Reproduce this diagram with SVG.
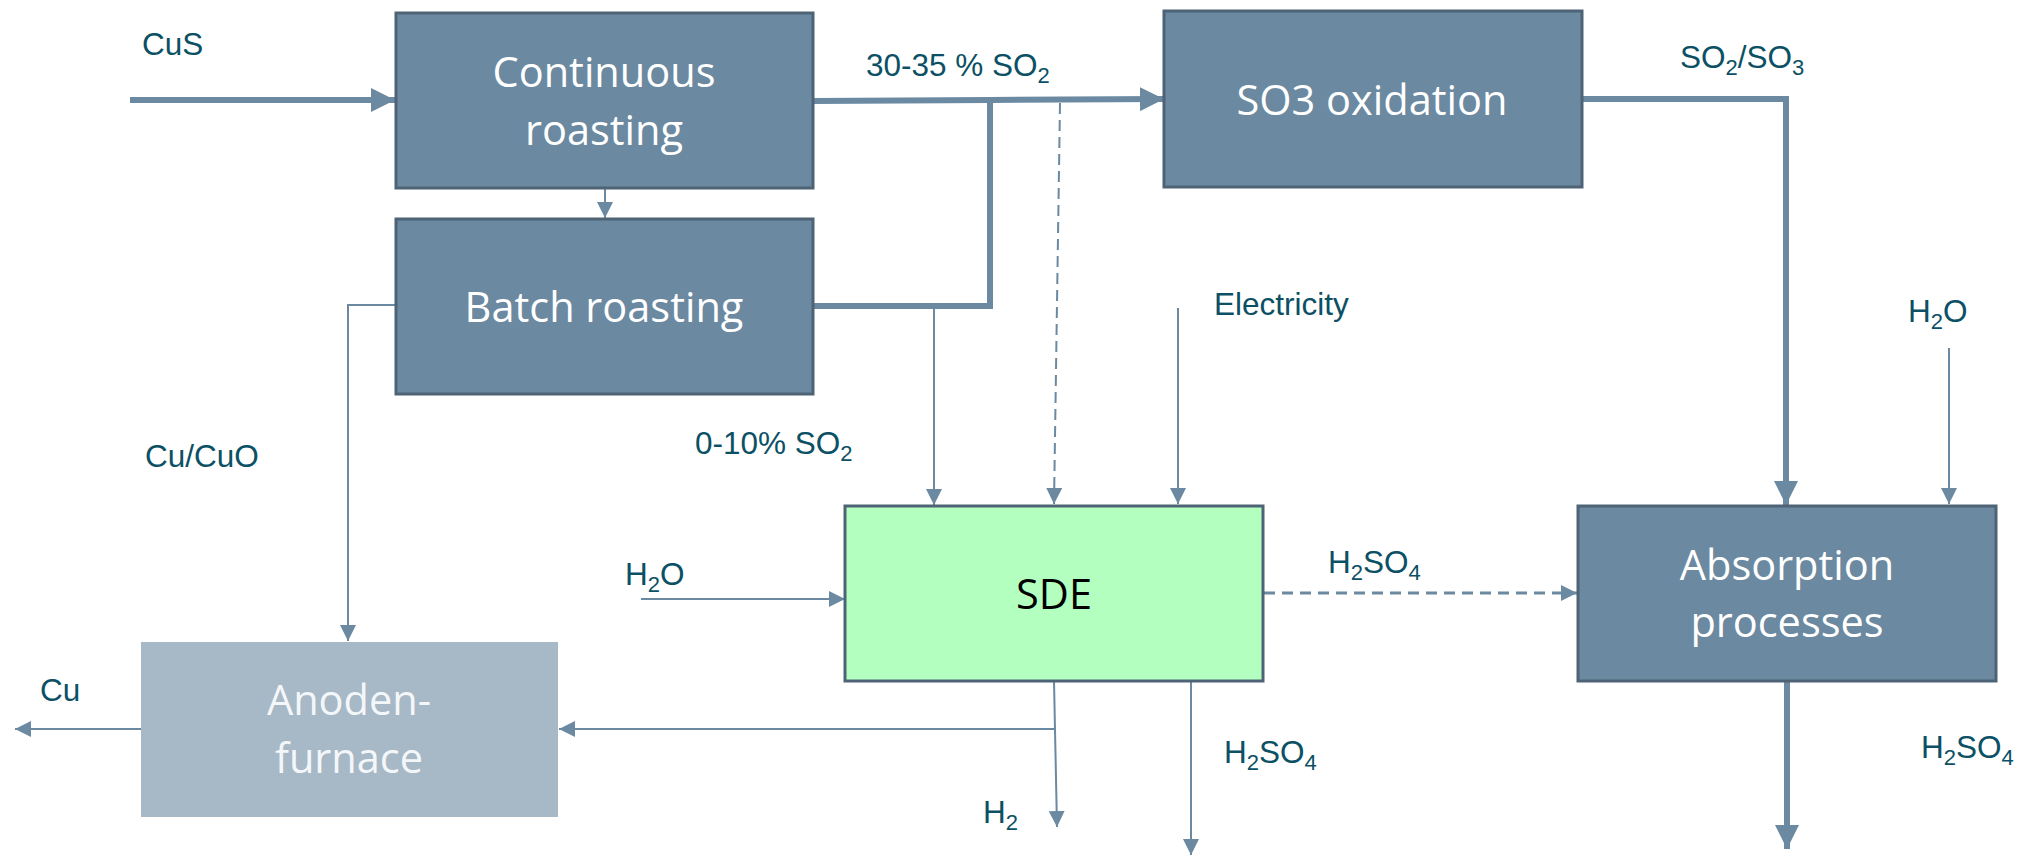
<svg xmlns="http://www.w3.org/2000/svg" width="2024" height="855" viewBox="0 0 2024 855">
<defs>
<style>
.box{fill:#6B89A0;stroke:#4E6375;stroke-width:3}
.light{fill:#A7B8C6}
.sde{fill:#B3FFBF;stroke:#4E6375;stroke-width:3}
.bt{font-family:"Open Sans","Liberation Sans",sans-serif;font-size:41.5px;fill:#FFFFFF;text-anchor:middle}
.lbl{font-family:"Liberation Sans",Arial,sans-serif;font-size:31.5px;fill:#0B5064}
.sub{font-size:22px}
.thick{fill:none;stroke:#6B89A0;stroke-width:6}
.thin{fill:none;stroke:#6B89A0;stroke-width:2}
.dash{fill:none;stroke:#6B89A0;stroke-width:2;stroke-dasharray:11 6}
.dashh{fill:none;stroke:#6B89A0;stroke-width:3;stroke-dasharray:11 7}
</style>
<marker id="ah" markerUnits="userSpaceOnUse" markerWidth="24" markerHeight="24" viewBox="0 0 22 22" refX="22" refY="11" orient="auto"><path d="M0,0 L22,11 L0,22 Z" fill="#6B89A0"/></marker>
<marker id="as" markerUnits="userSpaceOnUse" markerWidth="16" markerHeight="16" viewBox="0 0 15 15" refX="15" refY="7.5" orient="auto"><path d="M0,0 L15,7.5 L0,15 Z" fill="#6B89A0"/></marker>
</defs>
<rect width="2024" height="855" fill="#FFFFFF"/>

<g id="connectors">
<path class="thick" d="M130,100 L395,100" marker-end="url(#ah)"/>
<path class="thick" d="M813,101 L990,100 L1164,99" marker-end="url(#ah)"/>
<path class="thick" d="M813,306 L990,306 L990,100"/>
<path class="thick" d="M1582,99 L1786,99 L1786,505" marker-end="url(#ah)"/>
<path class="thick" d="M1787,681 L1787,849" marker-end="url(#ah)"/>
<path class="thin" d="M605,188 L605,218" marker-end="url(#as)"/>
<path class="thin" d="M396,305 L348,305 L348,641" marker-end="url(#as)"/>
<path class="thin" d="M934,309 L934,505" marker-end="url(#as)"/>
<path class="dash" d="M1060,103 L1054,504" marker-end="url(#as)"/>
<path class="thin" d="M1178,308 L1178,504" marker-end="url(#as)"/>
<path class="thin" d="M1949,348 L1949,504" marker-end="url(#as)"/>
<path class="thin" d="M641,599 L845,599" marker-end="url(#as)"/>
<path class="dashh" d="M1264,593 L1577,593" marker-end="url(#as)"/>
<path class="thin" d="M1054,681 L1057,827" marker-end="url(#as)"/>
<path class="thin" d="M1055,729 L559,729" marker-end="url(#as)"/>
<path class="thin" d="M141,729 L15,729" marker-end="url(#as)"/>
<path class="thin" d="M1191,681 L1191,855" marker-end="url(#as)"/>
</g>

<g id="continuous-roasting">
<rect class="box" x="396" y="13" width="417" height="175"/>
<text class="bt" x="604" y="87">Continuous</text>
<text class="bt" x="604" y="145">roasting</text>
</g>
<g id="batch-roasting">
<rect class="box" x="396" y="219" width="417" height="175"/>
<text class="bt" x="604" y="322">Batch roasting</text>
</g>
<g id="so3-oxidation">
<rect class="box" x="1164" y="11" width="418" height="176"/>
<text class="bt" x="1372" y="115">SO3 oxidation</text>
</g>
<g id="sde">
<rect class="sde" x="845" y="506" width="418" height="175"/>
<text class="bt" x="1054" y="609" style="fill:#000000">SDE</text>
</g>
<g id="absorption">
<rect class="box" x="1578" y="506" width="418" height="175"/>
<text class="bt" x="1787" y="580">Absorption</text>
<text class="bt" x="1787" y="637">processes</text>
</g>
<g id="anoden-furnace">
<rect class="light" x="141" y="642" width="417" height="175"/>
<text class="bt" x="349" y="715" style="fill:#F4F7F9">Anoden-</text>
<text class="bt" x="349" y="773" style="fill:#F4F7F9">furnace</text>
</g>

<g id="labels">
<text class="lbl" x="142" y="55">CuS</text>
<text class="lbl" x="866" y="76">30-35 % SO<tspan class="sub" dy="7">2</tspan></text>
<text class="lbl" x="1680" y="68">SO<tspan class="sub" dy="7">2</tspan><tspan dy="-7">/SO</tspan><tspan class="sub" dy="7">3</tspan></text>
<text class="lbl" x="1214" y="315">Electricity</text>
<text class="lbl" x="1908" y="322">H<tspan class="sub" dy="7">2</tspan><tspan dy="-7">O</tspan></text>
<text class="lbl" x="145" y="467">Cu/CuO</text>
<text class="lbl" x="695" y="454">0-10% SO<tspan class="sub" dy="7">2</tspan></text>
<text class="lbl" x="625" y="585">H<tspan class="sub" dy="7">2</tspan><tspan dy="-7">O</tspan></text>
<text class="lbl" x="1328" y="573">H<tspan class="sub" dy="7">2</tspan><tspan dy="-7">SO</tspan><tspan class="sub" dy="7">4</tspan></text>
<text class="lbl" x="40" y="701">Cu</text>
<text class="lbl" x="1224" y="763">H<tspan class="sub" dy="7">2</tspan><tspan dy="-7">SO</tspan><tspan class="sub" dy="7">4</tspan></text>
<text class="lbl" x="983" y="823">H<tspan class="sub" dy="7">2</tspan></text>
<text class="lbl" x="1921" y="758">H<tspan class="sub" dy="7">2</tspan><tspan dy="-7">SO</tspan><tspan class="sub" dy="7">4</tspan></text>
</g>
</svg>
